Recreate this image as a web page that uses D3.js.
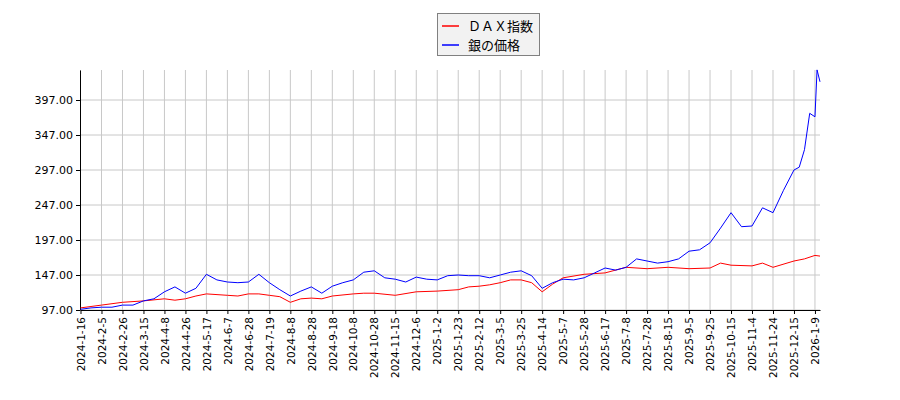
<!DOCTYPE html>
<html><head><meta charset="utf-8">
<script src="https://cdn.jsdelivr.net/npm/d3@7"></script>
<style>body{margin:0;background:#fff}</style></head>
<body><svg id="c" width="900" height="400"></svg>
<script>
const tickLabels = ["2024-1-16","2024-2-5","2024-2-26","2024-3-15","2024-4-8","2024-4-26","2024-5-17","2024-6-7","2024-6-28","2024-7-19","2024-8-8","2024-8-28","2024-9-18","2024-10-8","2024-10-28","2024-11-15","2024-12-6","2025-1-2","2025-1-23","2025-2-12","2025-3-5","2025-3-25","2025-4-14","2025-5-7","2025-5-28","2025-6-17","2025-7-8","2025-7-28","2025-8-15","2025-9-5","2025-9-25","2025-10-15","2025-11-4","2025-11-24","2025-12-15","2026-1-9"];
const yTicks = [97,147,197,247,297,347,397];
const silverPos = [0,0.5,1,1.5,2,2.5,3,3.5,4,4.5,5,5.5,6,6.5,7,7.5,8,8.5,9,9.5,10,10.5,11,11.5,12,12.5,13,13.5,14,14.5,15,15.5,16,16.5,17,17.5,18,18.5,19,19.5,20,20.5,21,21.5,22,22.5,23,23.5,24,24.5,25,25.5,26,26.5,27,27.5,28,28.5,29,29.5,30,30.5,31,31.5,32,32.5,33,33.5,34,34.25,34.5,34.75,35,35.1,35.24];
const silverVal = [98,100,101,101,104,104,110,113,123,130,121,128,148,140,137,136,137,148,136,126,117,124,130,121,131,136,140,151,153,143,141,137,144,141,140,146,147,146,146,143,147,151,153,146,128,136,141,140,143,150,157,154,158,170,167,164,166,170,181,183,193,214,236,216,217,243,236,268,297,301,326,378,373,440,423];
const daxPos = [0,1,2,3,4,4.5,5,5.5,6,7,7.5,8,8.5,9,9.5,10,10.5,11,11.5,12,13,13.5,14,15,16,17,18,18.5,19,19.5,20,20.5,21,21.5,22,22.5,23,24,25,26,27,28,29,30,30.5,31,32,32.5,33,34,34.5,35,35.24];
const daxVal = [100,104,108,110,113,111,113,117,120,118,117,120,120,118,116,108,113,114,113,117,120,121,121,118,123,124,126,130,131,133,136,140,140,136,123,134,143,148,150,158,156,158,156,157,164,161,160,164,158,167,170,175,174];

const svg = d3.select("#c");
const L=80,R=820,T=70,B=310;
const x = d3.scaleLinear().domain([0,35.24]).range([80.5,R]);
const y = d3.scaleLinear().domain([97,97+(B-T)/0.7]).range([B,T]);
const g = svg.append("g");
g.selectAll(".gx").data(tickLabels).enter().append("line")
 .attr("x1",(d,i)=>x(i)).attr("x2",(d,i)=>x(i)).attr("y1",T).attr("y2",B).attr("stroke","#c8c8c8");
g.selectAll(".gy").data(yTicks).enter().append("line")
 .attr("x1",L).attr("x2",R).attr("y1",d=>y(d)).attr("y2",d=>y(d)).attr("stroke","#c8c8c8");
const xa = svg.append("g").attr("transform",`translate(0,${B})`)
 .call(d3.axisBottom(x).tickValues(d3.range(tickLabels.length)).tickFormat(i=>tickLabels[i]).tickSize(4).tickSizeOuter(0));
xa.selectAll("text").attr("transform","rotate(-90)").attr("text-anchor","end").attr("x",-7).attr("y",0).attr("dy","0.35em");
const ya = svg.append("g").attr("transform",`translate(${L},0)`)
 .call(d3.axisLeft(y).tickValues(yTicks).tickFormat(d3.format(".2f")).tickSize(4).tickSizeOuter(0));
[xa,ya].forEach(a=>{a.selectAll("text").attr("font-family","DejaVu Sans").attr("font-size",11).attr("fill","#000");a.select(".domain").attr("stroke","#000");});
xa.selectAll("text").attr("font-size",10.5);
const line = d3.line().x(d=>x(d[0])).y(d=>y(d[1]));
svg.append("path").datum(daxPos.map((p,i)=>[p,daxVal[i]])).attr("d",line).attr("fill","none").attr("stroke","red").attr("stroke-width",1);
svg.append("path").datum(silverPos.map((p,i)=>[p,silverVal[i]])).attr("d",line).attr("fill","none").attr("stroke","blue").attr("stroke-width",1);
const lg = svg.append("g");
lg.append("rect").attr("x",437.5).attr("y",13.5).attr("width",102).attr("height",42).attr("fill","#f2f2f2").attr("stroke","#808080");
[["red","ＤＡＸ指数",26],["blue","銀の価格",45]].forEach(([c,t,yy])=>{
 lg.append("line").attr("x1",442).attr("x2",459).attr("y1",yy).attr("y2",yy).attr("stroke",c).attr("stroke-width",1.5);
 lg.append("text").attr("x",468).attr("y",yy+4.5).text(t).attr("font-family","Noto Sans CJK JP").attr("font-size",13);
});
</script></body></html>
